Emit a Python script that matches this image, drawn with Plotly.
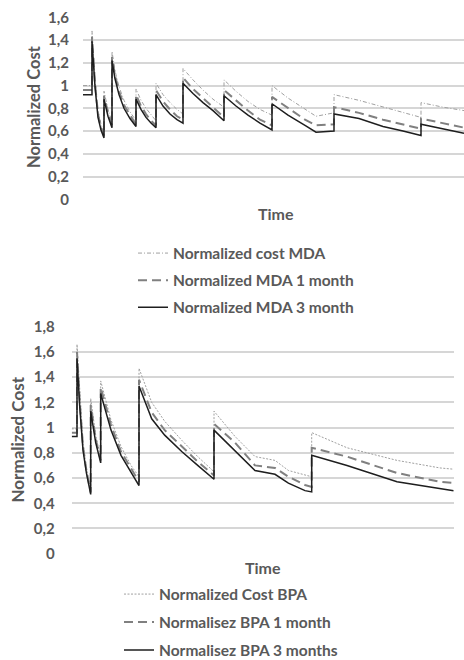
import plotly.graph_objects as go

# ---------------- data: top chart (MDA) ----------------
t_mda = [0, 9, 9, 10.5, 12, 15, 18, 21, 21, 25, 29, 29, 32, 36, 41, 47, 53, 53, 58, 63, 68, 73,
         73, 80, 87, 94, 100, 100, 110, 120, 130, 141, 141, 153, 165, 177, 189, 189, 205, 222, 233,
         251, 251, 276, 300, 320, 338, 338, 360, 381]
cost_mda = [1.00, 1.00, 1.48, 1.28, 1.06, 0.78, 0.66, 0.58, 0.95, 0.79, 0.68, 1.30, 1.13, 0.99, 0.87,
            0.77, 0.69, 0.97, 0.87, 0.80, 0.74, 0.69, 1.02, 0.92, 0.85, 0.79, 0.75, 1.15, 1.05, 0.96,
            0.88, 0.81, 1.05, 0.95, 0.86, 0.79, 0.74, 1.00, 0.89, 0.79, 0.73, 0.76, 0.92, 0.87, 0.81,
            0.76, 0.72, 0.85, 0.81, 0.78]
mda_1m = [0.96, 0.96, 1.43, 1.24, 1.02, 0.75, 0.63, 0.56, 0.91, 0.76, 0.65, 1.25, 1.09, 0.95, 0.83,
          0.74, 0.66, 0.92, 0.82, 0.75, 0.69, 0.65, 0.96, 0.86, 0.79, 0.73, 0.70, 1.07, 0.97, 0.89,
          0.81, 0.72, 0.96, 0.87, 0.78, 0.70, 0.65, 0.90, 0.80, 0.70, 0.65, 0.66, 0.81, 0.76, 0.70,
          0.66, 0.62, 0.71, 0.67, 0.63]
mda_3m = [0.92, 0.92, 1.39, 1.20, 0.99, 0.72, 0.61, 0.54, 0.88, 0.73, 0.63, 1.22, 1.06, 0.92, 0.80,
          0.71, 0.64, 0.88, 0.79, 0.72, 0.67, 0.63, 0.92, 0.82, 0.75, 0.70, 0.67, 1.02, 0.93, 0.85,
          0.78, 0.69, 0.91, 0.82, 0.74, 0.67, 0.61, 0.84, 0.74, 0.65, 0.59, 0.60, 0.75, 0.71, 0.64,
          0.60, 0.56, 0.66, 0.62, 0.58]
yticks_mda = [0, 0.2, 0.4, 0.6, 0.8, 1.0, 1.2, 1.4, 1.6]

# ---------------- data: bottom chart (BPA) ----------------
t_bpa = [0, 5.3, 5.3, 8, 11.3, 14.7, 19, 19, 24, 29, 29, 39.3, 49.3, 59.3, 67.3, 67.3, 80, 93, 110,
         126, 142.3, 142.3, 163.3, 183.3, 203.3, 216.7, 233.3, 240, 240, 275.3, 325.3, 368.3, 382]
cost_bpa = [0.99, 0.99, 1.66, 1.26, 0.88, 0.68, 0.50, 1.23, 0.94, 0.76, 1.37, 1.06, 0.85, 0.70, 0.61,
            1.47, 1.20, 1.05, 0.90, 0.77, 0.65, 1.13, 0.93, 0.77, 0.74, 0.66, 0.62, 0.61, 0.96,
            0.84, 0.74, 0.68, 0.67]
bpa_1m = [0.96, 0.96, 1.60, 1.21, 0.85, 0.66, 0.485, 1.18, 0.91, 0.74, 1.32, 1.02, 0.81, 0.67, 0.57,
          1.38, 1.12, 0.98, 0.85, 0.73, 0.62, 1.03, 0.88, 0.70, 0.68, 0.61, 0.545, 0.53, 0.84,
          0.77, 0.64, 0.57, 0.56]
bpa_3m = [0.93, 0.93, 1.55, 1.17, 0.82, 0.64, 0.47, 1.13, 0.88, 0.72, 1.27, 0.98, 0.78, 0.64, 0.54,
          1.33, 1.07, 0.94, 0.81, 0.70, 0.59, 0.98, 0.82, 0.66, 0.63, 0.56, 0.50, 0.49, 0.78,
          0.70, 0.57, 0.52, 0.50]
yticks_bpa = [0, 0.2, 0.4, 0.6, 0.8, 1.0, 1.2, 1.4, 1.6, 1.8]

W, H = 464, 660
FONT = "Lato"
TXT = "#595959"
GRID = "#d6d6d6"

fig = go.Figure()

def add(x, y, name, xa, ya, leg, color, width, dash, grp):
    fig.add_trace(go.Scatter(x=x, y=y, name=name, mode="lines", xaxis=xa, yaxis=ya,
                             legend=leg, legendgroup=grp,
                             line=dict(color=color, width=width, dash=dash)))

add(t_mda, cost_mda, "Normalized cost MDA", "x", "y", "legend", "#a0a0a0", 1, "4px,2px,1px,2px", "a1")
add(t_mda, mda_1m, "Normalized MDA 1 month", "x", "y", "legend", "#808080", 2, "9px,5px", "a2")
add(t_mda, mda_3m, "Normalized MDA 3 month", "x", "y", "legend", "#1e1e1e", 1.5, "solid", "a3")

add(t_bpa, cost_bpa, "Normalized Cost BPA", "x2", "y2", "legend2", "#a0a0a0", 1, "2px,1.5px", "b1")
add(t_bpa, bpa_1m, "Normalisez BPA 1 month", "x2", "y2", "legend2", "#808080", 2, "9px,5px", "b2")
add(t_bpa, bpa_3m, "Normalisez BPA 3 months", "x2", "y2", "legend2", "#1e1e1e", 1.5, "solid", "b3")

def px_x(p):
    return p / W

def px_y(p):
    return 1 - p / H

tickfont = dict(family=FONT, size=15, color=TXT, weight="bold")

fig.update_layout(
    template="none",
    width=W, height=H, autosize=False,
    margin=dict(l=0, r=0, t=0, b=0, autoexpand=False),
    paper_bgcolor="white", plot_bgcolor="white",
    separators=", ",
    font=dict(family=FONT, color=TXT),
    xaxis=dict(domain=[px_x(83), px_x(464)], range=[0, 381], showticklabels=False,
               showgrid=False, zeroline=False, showline=False, ticks="", anchor="y"),
    yaxis=dict(domain=[px_y(199.3), px_y(17.3)], range=[0, 1.6], tickvals=yticks_mda, anchor="x",
               showgrid=True, gridcolor=GRID, gridwidth=2, zeroline=False, showline=False,
               ticks="", tickfont=tickfont, ticklabelstandoff=13),
    xaxis2=dict(domain=[px_x(71.7), px_x(453.7)], range=[0, 382], showticklabels=False,
                showgrid=False, zeroline=False, showline=False, ticks="", anchor="y2"),
    yaxis2=dict(domain=[px_y(553.7), px_y(326.7)], range=[0, 1.8], tickvals=yticks_bpa, anchor="x2",
                showgrid=True, gridcolor=GRID, gridwidth=2, zeroline=False, showline=False,
                ticks="", tickfont=tickfont, ticklabelstandoff=16),
    legend=dict(x=px_x(133), y=px_y(236.5), xanchor="left", yanchor="top",
                font=dict(family=FONT, size=15.5, color=TXT, weight="bold"),
                bgcolor="rgba(0,0,0,0)", borderwidth=0, tracegroupgap=3.9, itemwidth=30),
    legend2=dict(x=px_x(119), y=px_y(577.5), xanchor="left", yanchor="top",
                 font=dict(family=FONT, size=15.5, color=TXT, weight="bold"),
                 bgcolor="rgba(0,0,0,0)", borderwidth=0, tracegroupgap=4.85, itemwidth=30),
    showlegend=True,
)

ann_font = dict(family=FONT, size=16, color=TXT, weight="bold")
fig.add_annotation(text="Time", xref="paper", yref="paper", x=px_x(275.5), y=px_y(213.5),
                   showarrow=False, font=ann_font, xanchor="center", yanchor="middle")
fig.add_annotation(text="Time", xref="paper", yref="paper", x=px_x(263), y=px_y(567),
                   showarrow=False, font=ann_font, xanchor="center", yanchor="middle")
fig.add_annotation(text="Normalized Cost", xref="paper", yref="paper", x=px_x(34), y=px_y(107),
                   showarrow=False, font=dict(family=FONT, size=16.5, color=TXT, weight="bold"),
                   textangle=-90, xanchor="center", yanchor="middle")
fig.add_annotation(text="Normalized Cost", xref="paper", yref="paper", x=px_x(16.5), y=px_y(440),
                   showarrow=False, font=dict(family=FONT, size=17, color=TXT, weight="bold"),
                   textangle=-90, xanchor="center", yanchor="middle")

fig.write_html("out.html")
